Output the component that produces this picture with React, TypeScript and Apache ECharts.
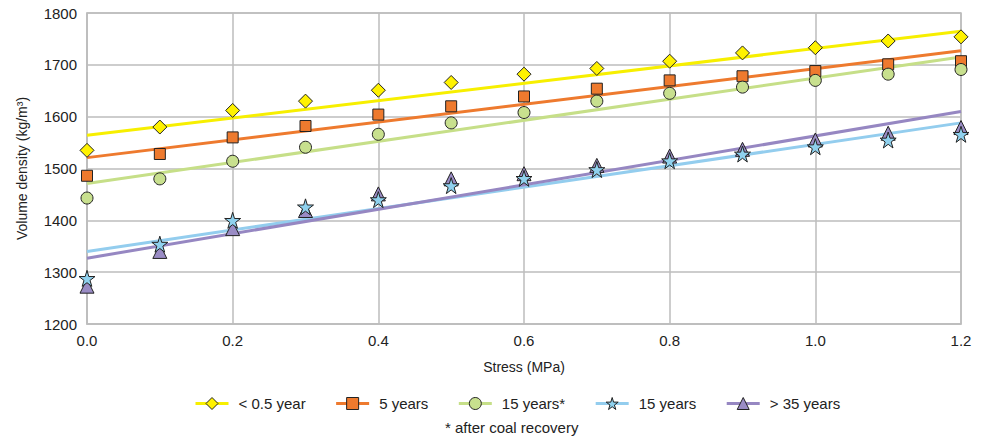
import React, { useEffect, useRef } from "react";
import * as echarts from "echarts";

const stress = [0, 0.1, 0.2, 0.3, 0.4, 0.5, 0.6, 0.7, 0.8, 0.9, 1.0, 1.1, 1.2];
const seriesNames = ["< 0.5 year", "5 years", "15 years*", "15 years", "> 35 years"];
const halfYear = [1535, 1580, 1612, 1630, 1651, 1666, 1682, 1693, 1707, 1723, 1733, 1746, 1754];
const fiveYears = [1486, 1528, 1560, 1582, 1604, 1620, 1639, 1654, 1670, 1678, 1688, 1701, 1707];
const fifteenRecovered = [1443, 1480, 1514, 1541, 1566, 1588, 1608, 1630, 1645, 1657, 1670, 1682, 1691];
const fifteenYears = [1288, 1354, 1400, 1426, 1440, 1467, 1481, 1498, 1515, 1528, 1542, 1555, 1566];
const over35 = [1273, 1340, 1384, 1419, 1451, 1480, 1490, 1506, 1524, 1537, 1555, 1568, 1579];
// trend line end values at stress 0 and 1.2
const trendStart = [1564, 1521, 1471, 1340, 1327];
const trendEnd = [1765, 1727, 1715, 1588, 1610];
const xTicks = [0, 0.2, 0.4, 0.6, 0.8, 1.0, 1.2];

const STAR = "path://M50,0 L61,35 L98,35 L68,57 L79,91 L50,70 L21,91 L32,57 L2,35 L39,35 Z";

export default function App() {
  const ref = useRef<HTMLDivElement>(null);
  useEffect(() => {
    if (!ref.current) return;
    const chart = echarts.init(ref.current, undefined, { renderer: "svg" });
    const font = "'Liberation Sans', Arial, sans-serif";
    const values = [halfYear, fiveYears, fifteenRecovered, fifteenYears, over35];
    const lineColors = ["#f7ef00", "#ee7a2e", "#c6df88", "#93cdee", "#9687c2"];
    const fillColors = ["#fff200", "#ee7a2e", "#c8e08e", "#8fd1ee", "#9a8cc5"];
    const symbols = ["diamond", "rect", "circle", STAR, "triangle"];
    const sizes = [14, 11, 12, 16, 14];

    const lineSeries = seriesNames.map((name, i) => ({
      name,
      type: "line",
      data: [
        [xTicks[0], trendStart[i]],
        [xTicks[xTicks.length - 1], trendEnd[i]],
      ],
      symbol: symbols[i],
      showSymbol: false,
      symbolSize: sizes[i],
      lineStyle: { color: lineColors[i], width: 3 },
      itemStyle: { color: fillColors[i], borderColor: "#222", borderWidth: 1 },
      z: 2,
      silent: true,
    }));
    const scatterOrder = [0, 1, 2, 4, 3];
    const scatterSeries = scatterOrder.map((i) => ({
      name: seriesNames[i],
      type: "scatter",
      data: stress.map((s, k) => [s, values[i][k]]),
      symbol: symbols[i],
      symbolSize: sizes[i],
      itemStyle: { color: fillColors[i], borderColor: "#222", borderWidth: 1, opacity: 1 },
      z: 3,
    }));

    chart.setOption({
      animation: false,
      backgroundColor: "#ffffff",
      textStyle: { fontFamily: font },
      grid: { left: 87, right: 25, top: 13, bottom: 118, show: true, borderColor: "#bdbdbd", borderWidth: 1.5 },
      xAxis: {
        type: "value",
        min: 0,
        max: 1.2,
        interval: 0.2,
        name: "Stress (MPa)",
        nameLocation: "middle",
        nameGap: 36,
        nameTextStyle: { fontSize: 14, color: "#222", fontFamily: font },
        axisLine: { lineStyle: { color: "#bdbdbd", width: 1.5 } },
        axisTick: { show: false },
        axisLabel: {
          fontSize: 15,
          color: "#222",
          margin: 9,
          fontFamily: font,
          formatter: (v: number) => v.toFixed(1),
        },
        splitLine: { lineStyle: { color: "#bdbdbd", width: 1.5 } },
      },
      yAxis: {
        type: "value",
        min: 1200,
        max: 1800,
        interval: 100,
        name: "Volume density (kg/m³)",
        nameLocation: "middle",
        nameGap: 58,
        nameTextStyle: { fontSize: 14, color: "#222", fontFamily: font },
        axisLine: { show: true, lineStyle: { color: "#bdbdbd", width: 1.5 } },
        axisTick: { show: false },
        axisLabel: {
          fontSize: 15,
          color: "#222",
          margin: 10,
          fontFamily: font,
          formatter: (v: number) => String(v),
        },
        splitLine: { lineStyle: { color: "#bdbdbd", width: 1.5 } },
      },
      legend: {
        data: seriesNames.map((name, i) => ({
          name,
          itemStyle: { color: fillColors[i], borderColor: "#222", borderWidth: 1 },
          lineStyle: { color: lineColors[i], width: 3 },
        })),
        top: 391,
        left: 189,
        itemWidth: 33,
        itemHeight: 15,
        itemGap: 29,
        textStyle: { fontSize: 15, color: "#222", fontFamily: font, padding: [0, 0, 0, 5] },
      },
      graphic: [
        {
          type: "text",
          left: 445,
          top: 420,
          style: { text: "* after coal recovery", fontSize: 15, fill: "#222", fontFamily: font },
        },
      ],
      series: [...lineSeries, ...scatterSeries],
    });
    return () => chart.dispose();
  }, []);
  return (
    <div
      ref={ref}
      style={{ position: "fixed", left: 0, top: 0, width: 986, height: 442 }}
    />
  );
}
